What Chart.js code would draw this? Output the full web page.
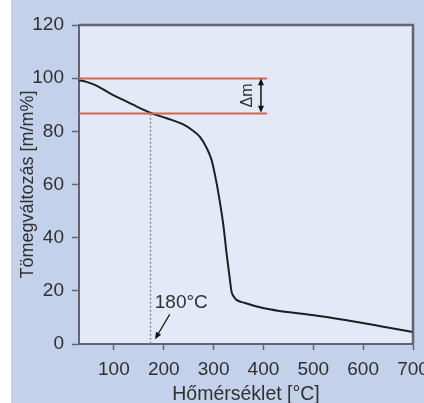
<!DOCTYPE html>
<html>
<head>
<meta charset="utf-8">
<script src="https://cdn.jsdelivr.net/npm/chart.js@4.4.1/dist/chart.umd.min.js"></script>
<style>
  html, body { margin: 0; padding: 0; background: #ffffff; }
  canvas { display: block; }
</style>
</head>
<body>
<canvas id="tga" width="424" height="403"></canvas>
<script>
// TGA curve: temperature [°C] vs remaining mass [m/m%]
const temps = [30, 45, 65, 92, 119, 146, 173, 206, 239, 256, 273, 286, 296, 306, 313, 320, 326, 332, 336, 341, 346, 363, 397, 432, 498, 564, 632, 700];
const mass  = [99.2, 98.6, 97.2, 94.3, 91.8, 89.3, 87.0, 84.9, 82.6, 80.6, 77.8, 73.8, 69.2, 60.5, 52.9, 44.1, 34.1, 25.3, 19.7, 17.7, 16.6, 15.4, 13.6, 12.4, 10.9, 9.0, 6.8, 4.5];

const xTicks = [100, 200, 300, 400, 500, 600, 700];
const yTicks = [0, 20, 40, 60, 80, 100, 120];

// mass-loss bracket (Δm) and the 180 °C marker
const deltaLevels = [100, 87];
const deltaSpan = [30, 407];
const deltaArrowT = 395;
const deltaLabel = 'Δm';
const markerT = 173;
const markerLabel = '180°C';
const markerLabelAt = [182, 15.4];
const markerArrow = [[212, 11.2], [182.5, 1.8]];

const FONT = "'Liberation Sans', Arial, sans-serif";
const textColor = '#303030';
const axisColor = '#60656f';

function arrowHead(ctx, x1, y1, x2, y2, len, half) {
    const a = Math.atan2(y2 - y1, x2 - x1);
    ctx.beginPath();
    ctx.moveTo(x2, y2);
    ctx.lineTo(x2 - len * Math.cos(a) + half * Math.sin(a), y2 - len * Math.sin(a) - half * Math.cos(a));
    ctx.lineTo(x2 - len * Math.cos(a) - half * Math.sin(a), y2 - len * Math.sin(a) + half * Math.cos(a));
    ctx.closePath();
    ctx.fill();
}

const framePlugin = {
    id: 'frame',
    beforeDraw(chart) {
        const { ctx, chartArea: a, width, height } = chart;
        ctx.save();
        ctx.fillStyle = '#ffffff';
        ctx.fillRect(0, 0, width, height);
        ctx.fillStyle = '#c3d2ea';
        ctx.fillRect(11, 0, width - 11, height);
        ctx.fillStyle = '#e4e9f7';
        ctx.fillRect(a.left, a.top, a.right - a.left, a.bottom - a.top);
        ctx.restore();
    },
    afterDraw(chart) {
        const { ctx, chartArea: a, scales: { x, y } } = chart;
        ctx.save();

        // top and right edges of the plot box
        ctx.strokeStyle = axisColor;
        ctx.lineWidth = 2.5;
        ctx.beginPath();
        ctx.moveTo(a.left, a.top);
        ctx.lineTo(a.right, a.top);
        ctx.lineTo(a.right, a.bottom);
        ctx.stroke();

        // Δm reference lines
        ctx.strokeStyle = '#d9644f';
        ctx.lineWidth = 2;
        deltaLevels.forEach(v => {
            const py = Math.round(y.getPixelForValue(v)) + 0.5;
            ctx.beginPath();
            ctx.moveTo(x.getPixelForValue(deltaSpan[0]), py);
            ctx.lineTo(x.getPixelForValue(deltaSpan[1]), py);
            ctx.stroke();
        });

        // double arrow between the two levels
        const ax = x.getPixelForValue(deltaArrowT);
        const ay1 = y.getPixelForValue(deltaLevels[0]);
        const ay2 = y.getPixelForValue(deltaLevels[1]);
        ctx.strokeStyle = '#111111';
        ctx.fillStyle = '#111111';
        ctx.lineWidth = 1.5;
        ctx.beginPath();
        ctx.moveTo(ax, ay1 + 4);
        ctx.lineTo(ax, ay2 - 4);
        ctx.stroke();
        arrowHead(ctx, ax, ay2, ax, ay1, 7, 3);
        arrowHead(ctx, ax, ay1, ax, ay2, 7, 3);

        ctx.save();
        ctx.translate(ax - 13, (ay1 + ay2) / 2);
        ctx.rotate(-Math.PI / 2);
        ctx.font = '16px ' + FONT;
        ctx.fillStyle = textColor;
        ctx.textAlign = 'center';
        ctx.textBaseline = 'middle';
        ctx.fillText(deltaLabel, 0, 0);
        ctx.restore();

        // dotted drop line at the marker temperature
        const mx = Math.round(x.getPixelForValue(markerT)) + 0.5;
        ctx.strokeStyle = '#8a8d94';
        ctx.lineWidth = 1.5;
        ctx.setLineDash([2, 2]);
        ctx.beginPath();
        ctx.moveTo(mx, ay2 + 1);
        ctx.lineTo(mx, a.bottom);
        ctx.stroke();
        ctx.setLineDash([]);

        // marker label and its pointer
        ctx.font = '19px ' + FONT;
        ctx.fillStyle = textColor;
        ctx.textAlign = 'left';
        ctx.textBaseline = 'middle';
        ctx.fillText(markerLabel, x.getPixelForValue(markerLabelAt[0]), y.getPixelForValue(markerLabelAt[1]));

        const p1x = x.getPixelForValue(markerArrow[0][0]), p1y = y.getPixelForValue(markerArrow[0][1]);
        const p2x = x.getPixelForValue(markerArrow[1][0]), p2y = y.getPixelForValue(markerArrow[1][1]);
        ctx.strokeStyle = '#111111';
        ctx.fillStyle = '#111111';
        ctx.lineWidth = 1.3;
        ctx.beginPath();
        ctx.moveTo(p1x, p1y);
        ctx.lineTo(p1x + (p2x - p1x) * 0.8, p1y + (p2y - p1y) * 0.8);
        ctx.stroke();
        arrowHead(ctx, p1x, p1y, p2x, p2y, 7, 3);

        ctx.restore();
    }
};

new Chart(document.getElementById('tga'), {
    type: 'line',
    data: {
        datasets: [{
            data: temps.map((t, i) => ({ x: t, y: mass[i] })),
            borderColor: '#1e1e1e',
            borderWidth: 2,
            pointRadius: 0,
            fill: false,
            cubicInterpolationMode: 'monotone'
        }]
    },
    options: {
        responsive: false,
        animation: false,
        events: [],
        layout: { padding: { left: 0, right: 11, top: 25, bottom: 0 } },
        plugins: {
            legend: { display: false },
            tooltip: { enabled: false }
        },
        scales: {
            x: {
                type: 'linear',
                min: 30,
                max: 700,
                afterBuildTicks: s => { s.ticks = xTicks.map(v => ({ value: v })); },
                afterFit: s => { s.height = 59; s.paddingLeft = 0; s.paddingRight = 0; },
                border: { display: true, color: axisColor, width: 2 },
                grid: { drawOnChartArea: false, drawTicks: true, tickLength: 6, tickWidth: 1.5, tickColor: axisColor },
                ticks: { color: textColor, padding: 8, maxRotation: 0, font: { family: FONT, size: 19 } },
                title: {
                    display: true,
                    text: 'Hőmérséklet [°C]',
                    color: textColor,
                    padding: { top: 0, bottom: -1 },
                    font: { family: FONT, size: 19.5, lineHeight: 1 }
                }
            },
            y: {
                type: 'linear',
                min: 0,
                max: 120,
                afterBuildTicks: s => { s.ticks = yTicks.map(v => ({ value: v })); },
                afterFit: s => { s.width = 79; s.paddingTop = 0; s.paddingBottom = 0; },
                border: { display: true, color: axisColor, width: 2 },
                grid: { drawOnChartArea: false, drawTicks: true, tickLength: 7, tickWidth: 1.5, tickColor: axisColor },
                ticks: { color: textColor, padding: 8, font: { family: FONT, size: 19 } },
                title: {
                    display: true,
                    text: 'Tömegváltozás [m/m%]',
                    color: textColor,
                    padding: { top: 19, bottom: 0 },
                    font: { family: FONT, size: 18, lineHeight: 1 }
                }
            }
        }
    },
    plugins: [framePlugin]
});
</script>
</body>
</html>
